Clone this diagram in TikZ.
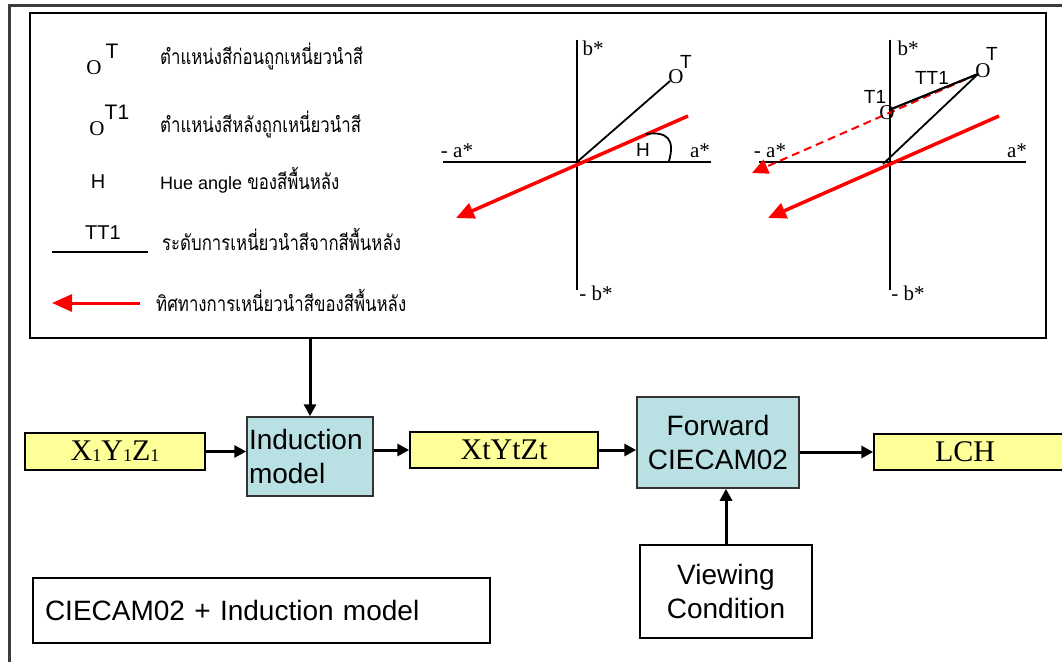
\documentclass[tikz,border=0pt]{standalone}
\usepackage{fontspec}
\usepackage{graphicx}
\setmainfont{Liberation Serif}
\setsansfont{Liberation Sans}
\newfontfamily\thaifont[Script=Thai]{Loma}
\usetikzlibrary{arrows.meta}
\definecolor{boxblue}{RGB}{185,224,227}
\definecolor{boxyellow}{RGB}{255,255,153}
\definecolor{framegray}{RGB}{60,60,60}
\newcommand\bigsans{\fontsize{28}{34}\selectfont\sffamily}
\newcommand\bigserif{\fontsize{30}{34}\selectfont\rmfamily}
\newcommand\legfont{\fontsize{21}{24}\selectfont}
\newcommand\axfont{\fontsize{21}{22}\selectfont\rmfamily}
\newcommand\lblfont{\fontsize{19}{20}\selectfont\sffamily}
\newcommand\thai[1]{\scalebox{0.8}[1]{\thaifont #1}}
\newcommand\subone{\raisebox{-1pt}{\fontsize{18}{18}\selectfont 1}}
\begin{document}
\begin{tikzpicture}[x=1pt,y=-1pt,
  ybox/.style={draw=black,line width=1.5pt,fill=boxyellow,inner sep=0pt},
  bbox/.style={draw=black!80,line width=1.5pt,fill=boxblue,inner sep=0pt},
  wbox/.style={draw=black,line width=1.5pt,fill=white,inner sep=0pt},
  flow/.style={line width=3pt,-{Triangle[length=12pt,width=12pt]}},
  axis/.style={line width=2.5pt},
  redarr/.style={red,line width=3.5pt,-{Triangle[length=18pt,width=16pt]}},
  lbl/.style={inner sep=0pt,font=\lblfont},
  ax/.style={inner sep=0pt,font=\axfont},
  leg/.style={inner sep=0pt,anchor=base west,font=\legfont}
]
\useasboundingbox (0,0) rectangle (1062,661);
% outer frame
\draw[framegray,line width=3pt] (1064,6) -- (9,6) -- (9,664);
% top panel
\node[draw=black,line width=1.5pt,minimum width=1016pt,minimum height=325pt,inner sep=0pt] (panel) at (538,175.5) {};

% ---------- legend ----------
\node[ax] (oT) at (94,68) {O};
\node[lbl,font=\fontsize{21}{22}\selectfont\sffamily] (oTs) at (112,51) {T};
\node[ax] (oT1) at (97,129) {O};
\node[lbl,font=\fontsize{21}{22}\selectfont\sffamily] (oT1s) at (117,112) {T1};
\node[lbl,font=\fontsize{20}{22}\selectfont\sffamily] (hleg) at (98,182) {H};
\node[lbl,font=\fontsize{20}{22}\selectfont\sffamily] (ttleg) at (103,233) {TT1};
\coordinate (ttA) at (52,252);
\coordinate (ttB) at (148,252);
\draw[line width=2.5pt] (ttA) -- (ttB);
\coordinate (rA) at (140,303);
\coordinate (rB) at (52,303);
\draw[red,line width=3pt,-{Triangle[length=20pt,width=17pt]}] (rA) -- (rB);

\node[leg] (t1) at (160,65) {\thai{ตำแหน่งสีก่อนถูกเหนี่ยวนำสี}};
\node[leg] (t2) at (160,132) {\thai{ตำแหน่งสีหลังถูกเหนี่ยวนำสี}};
\node[leg] (t3) at (160,189) {{\sffamily\fontsize{18}{22}\selectfont Hue angle }\thai{ของสีพื้นหลัง}};
\node[leg] (t4) at (162,250) {\thai{ระดับการเหนี่ยวนำสีจากสีพื้นหลัง}};
\node[leg] (t5) at (156,311) {\thai{ทิศทางการเหนี่ยวนำสีของสีพื้นหลัง}};

% ---------- middle plot ----------
\coordinate (o1) at (577,162);
\coordinate (v1t) at (577,40);
\coordinate (v1b) at (577,290);
\coordinate (h1l) at (443,162);
\coordinate (h1r) at (711,162);
\draw[axis] (v1t) -- (v1b);
\draw[axis] (h1l) -- (h1r);
\node[ax] (b1) at (593,48) {b*};
\node[ax] (mb1) at (596,293) {- b*};
\node[ax] (ma1) at (457,151) {- a*};
\node[ax] (a1) at (700,151) {a*};
\node[ax] (pT) at (676,77) {O};
\node[lbl] (pTs) at (686,62) {T};
\coordinate (pTe) at (670,81);
\draw[line width=1.8pt] (o1) -- (pTe);
\coordinate (red1s) at (688,116);
\coordinate (red1e) at (456,218);
\draw[redarr] (red1s) -- (red1e);
\coordinate (arcA) at (646,134);
\coordinate (arcB) at (669,161);
\draw[line width=1.8pt] (arcA) .. controls (668,131) and (675,140) .. (arcB);
\node[lbl] (hpl) at (643,150) {H};

% ---------- right plot ----------
\coordinate (o2) at (890,162);
\coordinate (v2t) at (890,40);
\coordinate (v2b) at (890,290);
\coordinate (h2l) at (759,162);
\coordinate (h2r) at (1026,162);
\draw[axis] (v2t) -- (v2b);
\draw[axis] (h2l) -- (h2r);
\node[ax] (b2) at (908,48) {b*};
\node[ax] (mb2) at (908,293) {- b*};
\node[ax] (ma2) at (770,151) {- a*};
\node[ax] (a2) at (1017,151) {a*};
\coordinate (T) at (978,74);
\coordinate (T1) at (889,110);
\coordinate (o2x) at (883,164);
\coordinate (dashTip) at (752,173);
\draw[red,line width=2pt,dash pattern=on 8pt off 5pt,-{Triangle[length=16pt,width=15pt]}] (T) -- (dashTip);
\draw[line width=2.2pt] (T1) -- (T);
\draw[line width=1.8pt] (T) -- (o2x);
\coordinate (red2s) at (999,116);
\coordinate (red2e) at (768,218);
\draw[redarr] (red2s) -- (red2e);
\node[ax] (pT2) at (983,71) {O};
\node[lbl] (pT2s) at (992,54) {T};
\node[ax] (pT1) at (887,113) {O};
\node[lbl] (pT1s) at (875,97) {T1};
\node[lbl] (tt1) at (932,78) {TT1};

% ---------- flow ----------
\node[ybox,minimum width=180pt,minimum height=37pt,font=\bigserif] (x1) at (115,451.5) {X\subone Y\subone Z\subone};
\node[bbox,minimum width=126pt,minimum height=79pt,font=\bigsans,align=left,text width=122pt] (ind) at (310,456.5) {Induction\\model};
\node[ybox,minimum width=188pt,minimum height=36pt,font=\bigserif] (xt) at (504,450) {XtYtZt};
\node[bbox,minimum width=162pt,minimum height=91pt,font=\bigsans,align=center] (fwd) at (718,442.5) {Forward\\CIECAM02};
\node[ybox,minimum width=200pt,minimum height=36pt,font=\bigserif] (lch) at (974,452) {\hspace*{-18pt}LCH};
\node[wbox,minimum width=172pt,minimum height=93pt,font=\bigsans,align=center] (view) at (726,591.5) {Viewing\\Condition};
\node[wbox,line width=2pt,minimum width=457pt,minimum height=65pt,font=\bigsans,text width=433pt,align=left] (cie) at (261.5,610.5) {\raisebox{-7pt}{CIECAM02 + Induction model}};

\draw[flow] (panel.south -| ind.north) -- (ind.north);
\draw[flow] (x1.east) -- (x1.east -| ind.west);
\draw[flow] (ind.east |- xt.west) -- (xt.west);
\draw[flow] (xt.east) -- (xt.east -| fwd.west);
\draw[flow] (fwd.east |- lch.west) -- (lch.west);
\draw[flow] (view.north) -- (view.north |- fwd.south);
\end{tikzpicture}
\end{document}
